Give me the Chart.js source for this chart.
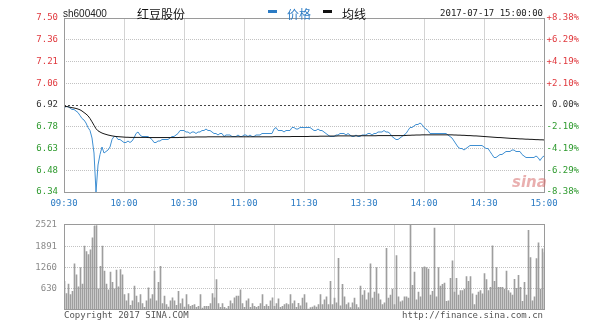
<!DOCTYPE html>
<html>
<head>
<meta charset="utf-8">
<script src="https://cdn.jsdelivr.net/npm/chart.js@4.4.1/dist/chart.umd.min.js"></script>
<style>
  body { margin: 0; background: #fff; }
  #wrap { position: relative; width: 600px; height: 327px; overflow: hidden; font-family: "DejaVu Sans Mono", monospace; }
  #priceBox { position: absolute; left: 0; top: 0; width: 600px; height: 212px; }
  #volBox { position: absolute; left: 0; top: 212px; width: 600px; height: 115px; }
  .txt { position: absolute; white-space: nowrap; line-height: 1; }
  .mono { font: 9px "DejaVu Sans Mono", monospace; }
  .cjk { font: 12px "Noto Sans CJK SC", sans-serif; }
  .dash { position: absolute; width: 9px; height: 3px; }
</style>
</head>
<body>
<div id="wrap">
  <div id="priceBox"><canvas id="priceChart"></canvas></div>
  <div id="volBox"><canvas id="volChart"></canvas></div>

  <div class="txt" style="left:63px;top:8px;font:10px 'Liberation Sans',sans-serif;color:#222">sh600400</div>
  <div class="txt cjk" style="left:137px;top:5px;color:#111">红豆股份</div>
  <div class="dash" style="left:268px;top:10px;background:#2b7bc4"></div>
  <div class="txt cjk" style="left:287px;top:5px;color:#2b7bc4">价格</div>
  <div class="dash" style="left:323px;top:10px;background:#111"></div>
  <div class="txt cjk" style="left:342px;top:5px;color:#111">均线</div>
  <div class="txt mono" style="right:57px;top:8px;color:#222">2017-07-17 15:00:00</div>
  <div class="txt" style="left:512px;top:173px;font:italic bold 15px 'DejaVu Sans',sans-serif;color:rgba(215,110,110,.55)">sina</div>
  <div class="txt mono" style="left:64px;top:310px;color:#555">Copyright 2017 SINA.COM</div>
  <div class="txt mono" style="right:57px;top:310px;color:#555">http://finance.sina.com.cn</div>
</div>

<script>
const prevClose = 6.92;
const timeTicks = [0, 30, 60, 90, 120, 150, 180, 210, 240];
const timeLabels = ["09:30", "10:00", "10:30", "11:00", "11:30", "13:30", "14:00", "14:30", "15:00"];
const priceTickValues = [6.34, 6.485, 6.63, 6.775, 6.92, 7.065, 7.21, 7.355, 7.5];
const priceTickLabels = ["6.34", "6.48", "6.63", "6.78", "6.92", "7.06", "7.21", "7.36", "7.50"];
const pctTickLabels = ["-8.38%", "-6.29%", "-4.19%", "-2.10%", "0.00%", "+2.10%", "+4.19%", "+6.29%", "+8.38%"];
const volTickValues = [0, 630, 1260, 1891, 2521];
const volTickLabels = ["", "630", "1260", "1891", "2521"];

// one value per minute, 09:30 .. 11:30 / 13:00 .. 15:00
const prices = [
  6.90, 6.91, 6.91, 6.90, 6.89, 6.89, 6.88, 6.87, 6.85, 6.83,
  6.82, 6.80, 6.77, 6.75, 6.70, 6.60, 6.34, 6.52, 6.59, 6.64,
  6.60, 6.61, 6.62, 6.64, 6.69, 6.71, 6.71, 6.69, 6.69, 6.68,
  6.67, 6.67, 6.68, 6.67, 6.68, 6.70, 6.73, 6.74, 6.72, 6.71,
  6.71, 6.71, 6.71, 6.70, 6.69, 6.67, 6.67, 6.68, 6.68, 6.69,
  6.69, 6.69, 6.69, 6.70, 6.71, 6.71, 6.72, 6.73, 6.75, 6.75,
  6.75, 6.74, 6.74, 6.73, 6.74, 6.74, 6.73, 6.74, 6.74, 6.75,
  6.75, 6.76, 6.75, 6.75, 6.74, 6.73, 6.73, 6.72, 6.73, 6.73,
  6.71, 6.72, 6.72, 6.72, 6.71, 6.71, 6.71, 6.72, 6.71, 6.71,
  6.72, 6.72, 6.71, 6.72, 6.71, 6.71, 6.72, 6.72, 6.72, 6.73,
  6.73, 6.73, 6.73, 6.73, 6.73, 6.76, 6.77, 6.75, 6.75, 6.75,
  6.74, 6.75, 6.75, 6.75, 6.77, 6.77, 6.76, 6.76, 6.77, 6.77,
  6.77,
  6.77, 6.77, 6.77, 6.76, 6.75, 6.75, 6.76, 6.75, 6.75, 6.74,
  6.73, 6.72, 6.71, 6.71, 6.71, 6.72, 6.72, 6.73, 6.73, 6.73,
  6.72, 6.73, 6.72, 6.71, 6.71, 6.72, 6.71, 6.71, 6.72, 6.72,
  6.72, 6.73, 6.73, 6.72, 6.73, 6.73, 6.74, 6.74, 6.74, 6.75,
  6.74, 6.74, 6.73, 6.71, 6.70, 6.69, 6.69, 6.70, 6.71, 6.72,
  6.73, 6.75, 6.77, 6.77, 6.78, 6.79, 6.79, 6.80, 6.79, 6.77,
  6.76, 6.75, 6.73, 6.73, 6.73, 6.73, 6.73, 6.73, 6.73, 6.73,
  6.73, 6.72, 6.71, 6.70, 6.68, 6.66, 6.64, 6.63, 6.63, 6.62,
  6.63, 6.64, 6.65, 6.65, 6.65, 6.65, 6.65, 6.65, 6.65, 6.64,
  6.63, 6.63, 6.61, 6.59, 6.57, 6.57, 6.58, 6.59, 6.59, 6.60,
  6.61, 6.61, 6.61, 6.62, 6.62, 6.61, 6.61, 6.61, 6.59, 6.58,
  6.57, 6.57, 6.57, 6.57, 6.57, 6.58, 6.57, 6.55, 6.57, 6.58,
];

const avgPrices = [
  6.910, 6.910, 6.908, 6.905, 6.902, 6.900, 6.897, 6.893, 6.888, 6.880,
  6.870, 6.860, 6.848, 6.830, 6.808, 6.785, 6.762, 6.748, 6.740, 6.733,
  6.728, 6.724, 6.720, 6.717, 6.714, 6.712, 6.710, 6.709, 6.708, 6.707,
  6.706, 6.705, 6.705, 6.704, 6.704, 6.704, 6.704, 6.704, 6.704, 6.704,
  6.704, 6.704, 6.703, 6.703, 6.703, 6.703, 6.703, 6.703, 6.703, 6.703,
  6.703, 6.703, 6.703, 6.703, 6.703, 6.703, 6.703, 6.703, 6.704, 6.704,
  6.705, 6.705, 6.706, 6.706, 6.706, 6.706, 6.707, 6.707, 6.707, 6.707,
  6.707, 6.707, 6.708, 6.708, 6.708, 6.708, 6.708, 6.708, 6.708, 6.708,
  6.708, 6.708, 6.708, 6.708, 6.708, 6.708, 6.708, 6.708, 6.708, 6.708,
  6.708, 6.708, 6.708, 6.708, 6.708, 6.708, 6.708, 6.708, 6.708, 6.708,
  6.708, 6.708, 6.708, 6.708, 6.708, 6.709, 6.709, 6.709, 6.709, 6.709,
  6.709, 6.709, 6.709, 6.709, 6.710, 6.710, 6.710, 6.710, 6.710, 6.710,
  6.710,
  6.710, 6.710, 6.711, 6.711, 6.711, 6.711, 6.711, 6.712, 6.712, 6.712,
  6.712, 6.712, 6.713, 6.713, 6.713, 6.713, 6.714, 6.714, 6.714, 6.714,
  6.714, 6.714, 6.714, 6.714, 6.714, 6.714, 6.714, 6.715, 6.715, 6.715,
  6.715, 6.715, 6.715, 6.715, 6.715, 6.715, 6.716, 6.716, 6.716, 6.716,
  6.716, 6.716, 6.716, 6.716, 6.716, 6.716, 6.716, 6.716, 6.716, 6.716,
  6.717, 6.718, 6.718, 6.719, 6.719, 6.720, 6.720, 6.720, 6.721, 6.721,
  6.721, 6.721, 6.721, 6.721, 6.721, 6.721, 6.721, 6.721, 6.721, 6.721,
  6.721, 6.721, 6.721, 6.721, 6.720, 6.720, 6.719, 6.719, 6.718, 6.718,
  6.717, 6.716, 6.716, 6.715, 6.714, 6.714, 6.713, 6.712, 6.711, 6.710,
  6.709, 6.708, 6.707, 6.706, 6.705, 6.704, 6.703, 6.703, 6.702, 6.701,
  6.700, 6.699, 6.698, 6.697, 6.697, 6.696, 6.695, 6.694, 6.694, 6.693,
  6.692, 6.692, 6.691, 6.691, 6.690, 6.689, 6.689, 6.688, 6.688, 6.687,
];

const volumes = [
  850, 490, 770, 460, 550, 1370, 1040, 690, 1260, 770,
  1890, 1730, 1640, 1780, 2140, 2480, 2500, 630, 1290, 1890,
  1150, 770, 600, 1120, 820, 630, 1180, 690, 1200, 1040,
  460, 270, 490, 140, 270, 710, 410, 220, 460, 190,
  80, 270, 660, 330, 460, 1150, 270, 820, 1290, 190,
  410, 160, 90, 270, 360, 270, 140, 550, 190, 330,
  90, 460, 160, 110, 140, 160, 80, 110, 460, 60,
  110, 110, 110, 190, 490, 360, 900, 190, 80, 190,
  80, 40, 110, 270, 190, 360, 410, 410, 600, 190,
  80, 270, 330, 80, 190, 110, 80, 110, 190, 460,
  110, 160, 110, 270, 360, 110, 190, 330, 80, 110,
  160, 190, 160, 460, 190, 270, 80, 200, 120, 350,
  460,
  210, 30, 70, 90, 120, 90, 160, 460, 160, 300,
  390, 160, 850, 160, 350, 210, 1530, 120, 760, 390,
  160, 210, 70, 210, 350, 160, 70, 710, 440, 575,
  300, 510, 1370, 350, 530, 1260, 480, 300, 160, 210,
  1830, 350, 440, 620, 160, 1610, 390, 240, 270, 390,
  390, 350, 2521, 730, 1120, 300, 530, 390, 1260, 1280,
  1260, 1210, 440, 550, 2430, 390, 1260, 710, 760, 800,
  260, 270, 940, 1460, 530, 940, 440, 575, 575, 620,
  990, 850, 990, 480, 160, 440, 530, 575, 480, 1080,
  900, 575, 670, 1900, 850, 1260, 670, 670, 670, 620,
  1150, 575, 510, 440, 910, 640, 1030, 670, 260, 820,
  440, 2360, 1550, 270, 390, 1520, 1990, 620, 1810, 1700,
];

const RED = "#e0393e";
const GREEN = "#2e9a2e";
const BLUE = "#2b7bc4";
const MONO = { family: "'DejaVu Sans Mono', monospace", size: 9 };

function tickValue(ctx) {
  return ctx && ctx.tick ? ctx.tick.value : NaN;
}

function fixedTicks(values) {
  return (scale) => {
    scale.ticks = values.map((value) => ({ value }));
  };
}

function labelFor(values, labels) {
  return (value) => {
    const i = values.findIndex((v) => Math.abs(v - value) < 1e-6);
    return i < 0 ? "" : labels[i];
  };
}

function isEdge(value, values) {
  return Math.abs(value - values[0]) < 1e-6 || Math.abs(value - values[values.length - 1]) < 1e-6;
}

function isPrevClose(value) {
  return Math.abs(value - prevClose) < 1e-6;
}

function tone(value) {
  if (isPrevClose(value)) return "#333";
  return value > prevClose ? RED : GREEN;
}

// grey frame round the plot area
const framePlugin = {
  id: "frame",
  afterDatasetsDraw(chart) {
    const { ctx, chartArea: a } = chart;
    ctx.save();
    ctx.strokeStyle = "#9a9a9a";
    ctx.lineWidth = 1;
    ctx.strokeRect(Math.floor(a.left) + 0.5, Math.floor(a.top) + 0.5, Math.round(a.right - a.left), Math.round(a.bottom - a.top));
    ctx.restore();
  },
};

function timeAxis(showLabels) {
  return {
    type: "linear",
    min: 0,
    max: 240,
    offset: false,
    afterBuildTicks: fixedTicks(timeTicks),
    afterFit: (scale) => { scale.height = showLabels ? 20 : 0; },
    border: { display: false },
    grid: {
      drawTicks: false,
      lineWidth: 1,
      color: (ctx) => (isEdge(tickValue(ctx), timeTicks) ? "rgba(0,0,0,0)" : "#d4d4d4"),
    },
    ticks: {
      display: showLabels,
      autoSkip: false,
      maxRotation: 0,
      padding: 6,
      font: MONO,
      color: BLUE,
      callback: labelFor(timeTicks, timeLabels),
    },
  };
}

new Chart(document.getElementById("priceChart"), {
  type: "line",
  data: {
    datasets: [
      {
        label: "均线",
        data: avgPrices.map((y, x) => ({ x, y })),
        borderColor: "#161616",
        borderWidth: 1,
        pointRadius: 0,
        tension: 0,
        order: 0,
      },
      {
        label: "价格",
        data: prices.map((y, x) => ({ x, y })),
        borderColor: "#3f8fd2",
        borderWidth: 1,
        pointRadius: 0,
        tension: 0,
        order: 1,
      },
    ],
  },
  options: {
    responsive: true,
    maintainAspectRatio: false,
    animation: false,
    events: [],
    layout: { padding: { top: 18, right: 21, left: 0, bottom: 0 } },
    plugins: { legend: { display: false }, tooltip: { enabled: false } },
    scales: {
      x: timeAxis(true),
      y: {
        position: "left",
        min: 6.34,
        max: 7.5,
        afterBuildTicks: fixedTicks(priceTickValues),
        afterFit: (scale) => { scale.width = 64; },
        border: { display: false, dash: (ctx) => (isPrevClose(tickValue(ctx)) ? [2, 2] : [1, 1]) },
        grid: {
          drawTicks: false,
          color: (ctx) => {
            const v = tickValue(ctx);
            if (isEdge(v, priceTickValues)) return "rgba(0,0,0,0)";
            return isPrevClose(v) ? "#444" : "#c2c2c2";
          },
        },
        ticks: {
          padding: 6,
          font: MONO,
          color: (ctx) => tone(tickValue(ctx)),
          callback: labelFor(priceTickValues, priceTickLabels),
        },
      },
      y2: {
        position: "right",
        min: 6.34,
        max: 7.5,
        afterBuildTicks: fixedTicks(priceTickValues),
        afterFit: (scale) => { scale.width = 35; },
        border: { display: false },
        grid: { display: false, drawTicks: false },
        ticks: {
          padding: 3,
          crossAlign: "far",
          font: MONO,
          color: (ctx) => tone(tickValue(ctx)),
          callback: labelFor(priceTickValues, pctTickLabels),
        },
      },
    },
  },
  plugins: [framePlugin],
});

// half-pixel shift so the 1px bars land on whole pixels
new Chart(document.getElementById("volChart"), {
  type: "bar",
  data: {
    datasets: [
      {
        label: "成交量",
        data: volumes.map((y, x) => ({ x, y })),
        backgroundColor: "#9e9e9e",
        barThickness: 1,
        borderWidth: 0,
      },
    ],
  },
  options: {
    responsive: true,
    maintainAspectRatio: false,
    animation: false,
    events: [],
    layout: { padding: { top: 6, right: 55.5, left: 0, bottom: 17 } },
    plugins: { legend: { display: false }, tooltip: { enabled: false } },
    scales: {
      x: timeAxis(false),
      y: {
        min: 0,
        max: 2521,
        afterBuildTicks: fixedTicks(volTickValues),
        afterFit: (scale) => { scale.width = 64.5; },
        border: { display: false, dash: [1, 1] },
        grid: {
          drawTicks: false,
          color: (ctx) => (isEdge(tickValue(ctx), volTickValues) ? "rgba(0,0,0,0)" : "#c2c2c2"),
        },
        ticks: {
          padding: 7.5,
          font: MONO,
          color: "#8a8a8a",
          callback: labelFor(volTickValues, volTickLabels),
        },
      },
    },
  },
  plugins: [framePlugin],
});
</script>
</body>
</html>
